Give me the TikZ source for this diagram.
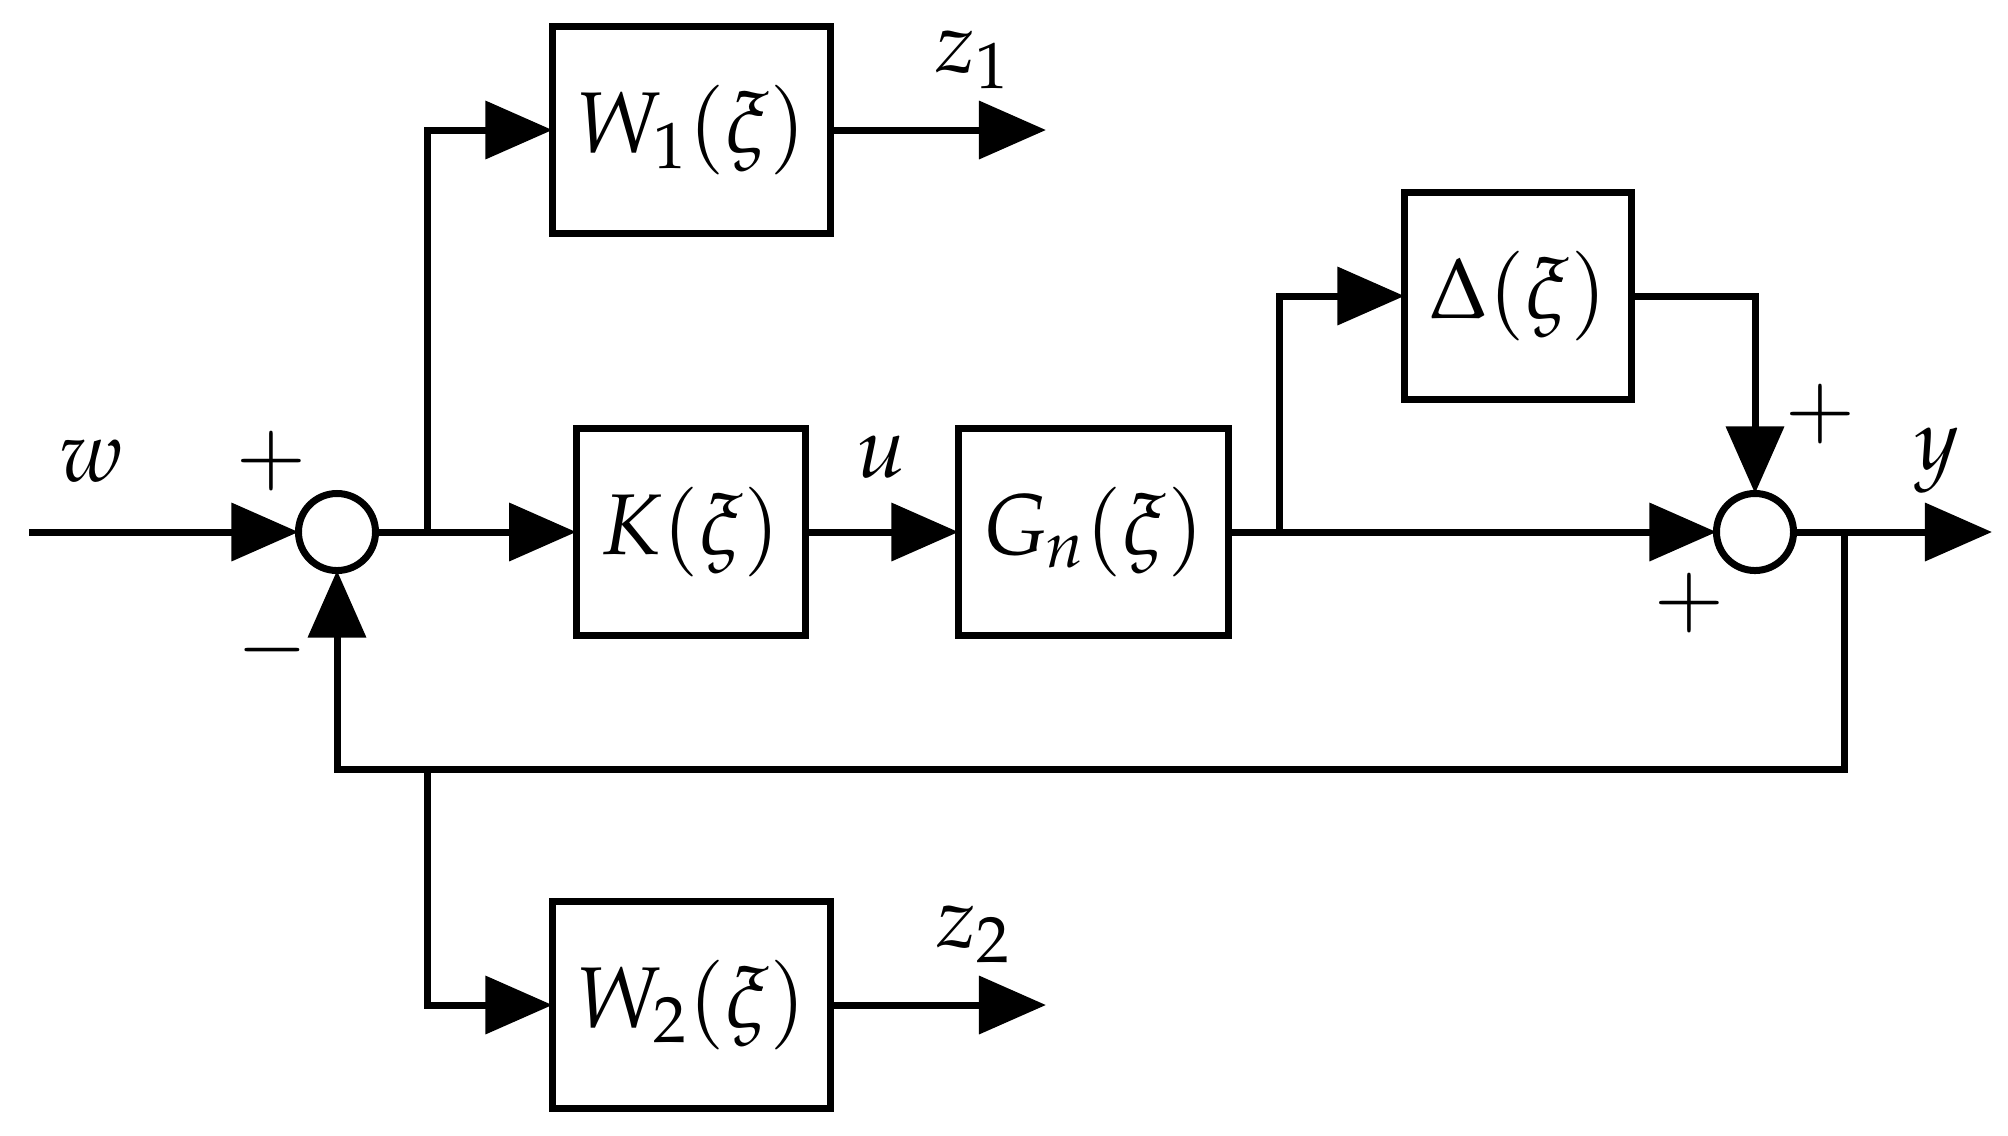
\documentclass[tikz,border=0pt]{standalone}
\usepackage{mathpazo}
\usetikzlibrary{arrows.meta}
\begin{document}
\begin{tikzpicture}[x=0.01cm,y=-0.01cm,
  line width=0.07cm,
  blk/.style={draw,rectangle,minimum width=2.78cm,minimum height=2.07cm,inner sep=0pt,outer sep=0pt,font=\fontsize{24.5}{28}\selectfont},
  sumnode/.style={draw,circle,minimum size=0.77cm,inner sep=0pt,outer sep=0pt},
  lbl/.style={font=\fontsize{24.5}{28}\selectfont,inner sep=0pt},
  sgn/.style={font=\fontsize{24.5}{28}\selectfont,inner sep=0pt},
  sig/.style={-{Triangle[length=0.67cm,width=0.57cm]}}]
\useasboundingbox (0,0) rectangle (2008,1135);
% blocks
\node[blk] (W1) at (691.5,130) {$W_1(\xi)$};
\node[blk,minimum width=2.295cm] (K) at (691,532) {$K(\xi)$};
\node[blk,minimum width=2.70cm] (G) at (1093.5,532) {$G_n(\xi)$};
\node[blk,minimum width=2.27cm] (D) at (1518,296) {$\Delta(\xi)$};
\node[blk] (W2) at (691.5,1005) {$W_2(\xi)$};
\node[sumnode] (s1) at (337,532) {};
\node[sumnode] (s2) at (1755,532) {};
% coordinates
\coordinate (win) at (29,532);
\coordinate (z1e) at (1046,130);
\coordinate (z2e) at (1046,1005);
\coordinate (ye) at (1992,532);
\coordinate (b1) at (427,532);
\coordinate (b2) at (1279,532);
\coordinate (b3) at (1844.5,532);
\coordinate (c1) at (1844.5,769);
\coordinate (b4) at (427,769);
% connectors
\draw[sig] (win) -- (s1.west);
\draw[sig] (s1.east) -- (K.west);
\draw[sig] (b1) |- (W1.west);
\draw[sig] (W1.east) -- (z1e);
\draw[sig] (K.east) -- (G.west);
\draw[sig] (G.east) -- (s2.west);
\draw[sig] (b2) |- (D.west);
\draw[sig] (D.east) -| (s2.north);
\draw[sig] (s2.east) -- (ye);
\draw[sig] (b3) -- (c1) -| (s1.south);
\draw[sig] (b4) |- (W2.west);
\draw[sig] (W2.east) -- (z2e);
% labels
\node[lbl] (lw) at (92,461) {$w$};
\node[lbl] (lz1) at (973,60) {$z_1$};
\node[lbl] (lu) at (881,457) {$u$};
\node[lbl] (ly) at (1937,461) {$y$};
\node[lbl] (lz2) at (974,934) {$z_2$};
\node[sgn] (p1) at (271,461) {$+$};
\node[sgn] (m1) at (272,650) {$-$};
\node[sgn] (p2) at (1820,414) {$+$};
\node[sgn] (p3) at (1689,603) {$+$};
\end{tikzpicture}
\end{document}
